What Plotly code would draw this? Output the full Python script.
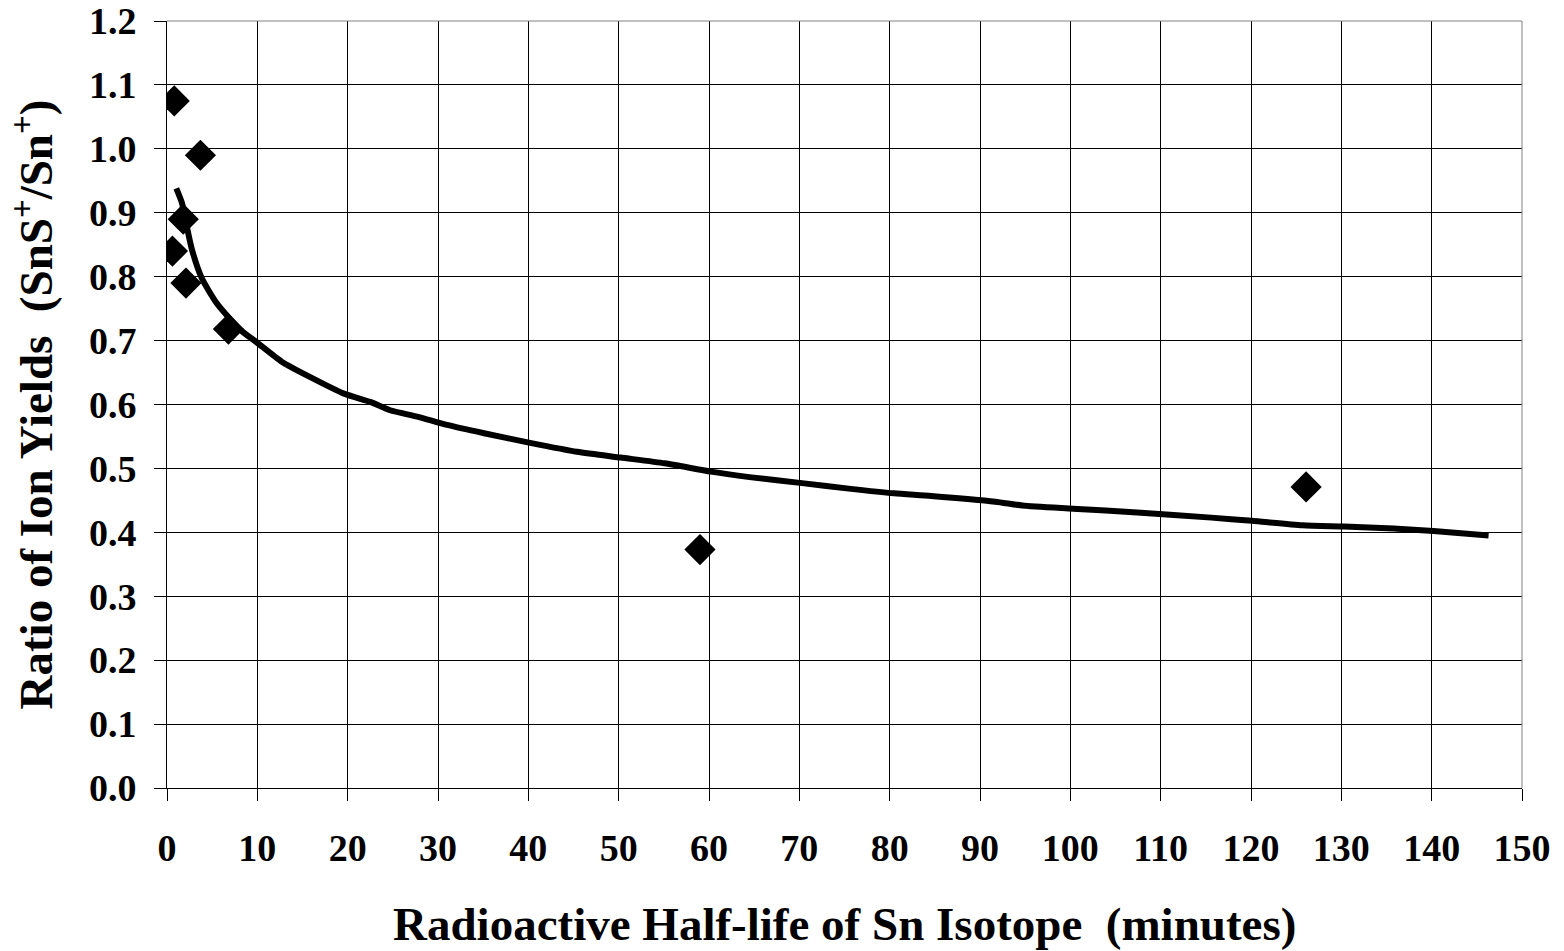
import plotly.graph_objects as go

# Measured data points (half-life in minutes, ratio of ion yields)
half_life = [0.8, 0.6, 1.8, 2.1, 3.7, 6.8, 59.0, 126.1]
ratio = [1.075, 0.84, 0.89, 0.79, 0.99, 0.718, 0.373, 0.471]

# Trend curve
curve_x = [1.03, 1.66, 2.2, 2.77, 3.87, 5.53, 8.1, 9.96, 12.7, 15.7, 19.6, 22.5, 24.7,
           27.7, 31.0, 35.1, 40.2, 45.4, 50.2, 55.1, 60.2, 64.7, 70.3, 75.7, 80.5, 84.6,
           91.7, 94.7, 100.3, 107.4, 115.6, 120.1, 125.7, 130.3, 135.8, 140.2, 146.3]
curve_y = [0.938, 0.915, 0.878, 0.842, 0.797, 0.758, 0.717, 0.697, 0.667, 0.644, 0.617,
           0.604, 0.591, 0.581, 0.568, 0.555, 0.540, 0.526, 0.517, 0.508, 0.495, 0.486,
           0.477, 0.468, 0.461, 0.457, 0.448, 0.442, 0.437, 0.431, 0.423, 0.418, 0.411,
           0.409, 0.406, 0.402, 0.395]

x_title = "Radioactive Half-life of Sn Isotope  (minutes)"
y_title = "Ratio of Ion Yields  (SnS<sup>+</sup>/Sn<sup>+</sup>)"

FONT = "Liberation Serif"

fig = go.Figure()
fig.add_trace(go.Scatter(x=curve_x, y=curve_y, mode="lines",
                         line=dict(color="black", width=6, shape="spline", smoothing=0.6),
                         hoverinfo="skip", showlegend=False))
fig.add_trace(go.Scatter(x=half_life, y=ratio, mode="markers",
                         marker=dict(symbol="diamond", size=24, color="black",
                                     line=dict(width=0)),
                         showlegend=False))

fig.update_layout(
    width=1564, height=951,
    margin=dict(l=167, r=42, t=21, b=163),
    plot_bgcolor="white", paper_bgcolor="white",
    font=dict(family=FONT, color="black"),
    xaxis=dict(range=[0, 150], dtick=10, tick0=0, showgrid=True, gridcolor="black",
               gridwidth=1, zeroline=False, showline=True, linecolor="black", linewidth=1,
               ticks="outside", ticklen=12, tickcolor="black", automargin=False,
               tickfont=dict(family=FONT, size=38, color="black", weight="bold"),
               ticklabelstandoff=14),
    yaxis=dict(range=[0, 1.2], dtick=0.1, tick0=0, tickformat=".1f", showgrid=True,
               gridcolor="black", gridwidth=1, zeroline=False, showline=True,
               linecolor="black", linewidth=1, ticks="outside", ticklen=12,
               tickcolor="black", automargin=False,
               tickfont=dict(family=FONT, size=38, color="black", weight="bold"),
               ticklabelstandoff=10),
    shapes=[
        dict(type="line", xref="paper", yref="paper", x0=0, x1=1, y0=1, y1=1,
             line=dict(color="#808080", width=1)),
        dict(type="line", xref="paper", yref="paper", x0=1, x1=1, y0=0, y1=1,
             line=dict(color="#808080", width=1)),
    ],
    annotations=[
        dict(text="<b>" + x_title + "</b>", xref="paper", yref="paper", x=0.5, y=0,
             xanchor="center", yanchor="middle", yshift=-136, showarrow=False,
             font=dict(family=FONT, size=47, color="black")),
        dict(text="<b>" + y_title + "</b>", xref="paper", yref="paper", x=0, y=0.5,
             xanchor="center", yanchor="middle", xshift=-134, textangle=-90,
             showarrow=False, font=dict(family=FONT, size=47, color="black")),
    ],
)

fig.write_html("out.html", config={"displayModeBar": False},
               post_script="document.body.style.margin='0';")
